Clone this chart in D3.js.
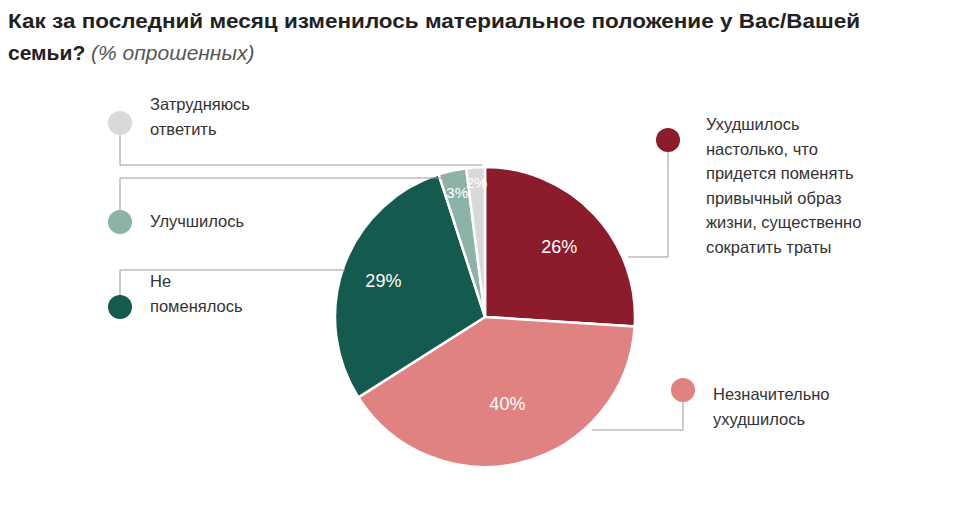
<!DOCTYPE html><html><head><meta charset="utf-8"><script src="https://cdn.jsdelivr.net/npm/d3@7"></script>
<style>body{margin:0;background:#fff;font-family:"Liberation Sans",Arial,sans-serif}</style></head><body><svg id="c" width="960" height="530"></svg>
<script>
const categories=["Ухудшилось настолько, что придется поменять привычный образ жизни, существенно сократить траты","Незначительно ухудшилось","Не поменялось","Улучшилось","Затрудняюсь ответить"];
const values=[26,40,29,3,2];
const labels=["26%","40%","29%","3%","2%"];
const colors=["#8c1c2c","#e08282","#145a4e","#8db3a8","#d9d9d9"];
const svg=d3.select("#c");
const t=svg.append("text").attr("x",8).attr("y",28).attr("font-size",21).attr("fill","#222").attr("textLength",852).attr("lengthAdjust","spacingAndGlyphs");
t.append("tspan").attr("font-weight","bold").text("Как за последний месяц изменилось материальное положение у Вас/Вашей");
const t2=svg.append("text").attr("x",8).attr("y",60).attr("font-size",21).attr("fill","#222");
t2.append("tspan").attr("font-weight","bold").text("семьи? ");
t2.append("tspan").attr("font-style","italic").attr("fill","#555").text("(% опрошенных)");
const cx=485,cy=317,r=150;
const pie=d3.pie().sort(null)(values);
const arc=d3.arc().innerRadius(0).outerRadius(r);
const g=svg.append("g").attr("transform",`translate(${cx},${cy})`);
g.selectAll("path").data(pie).join("path").attr("d",arc).attr("fill",(d,i)=>colors[i]).attr("stroke","#fff").attr("stroke-width",2.5);
const lr=[0.68,0.6,0.72,0.85,0.9];
g.selectAll("text").data(pie).join("text").attr("transform",(d,i)=>{const a=d3.arc().innerRadius(r*lr[i]).outerRadius(r*lr[i]);return `translate(${a.centroid(d)})`})
 .attr("text-anchor","middle").attr("dy","0.35em").attr("fill","#fff").attr("font-size",(d,i)=>i>2?15:18).text((d,i)=>labels[i]);
const line=(pts)=>svg.append("polyline").attr("points",pts.map(p=>p.join(",")).join(" ")).attr("fill","none").attr("stroke","#999").attr("stroke-width",1);
line([[120,135],[120,165],[482,165]]);
line([[120,222],[120,178],[445,178]]);
line([[120,300],[120,270],[345,270]]);
line([[668,152],[668,257],[628,257]]);
line([[683,402],[683,430],[592,430]]);
const leg=[{x:120,y:123,c:4,lines:["Затрудняюсь","ответить"]},{x:120,y:222,c:3,lines:["Улучшилось"]},{x:120,y:307,c:2,lines:["Не","поменялось"],dy:-12},
{x:668,y:140,c:0,lines:["Ухудшилось","настолько, что","придется поменять","привычный образ","жизни, существенно","сократить траты"],tx:706,ty:130},
{x:683,y:390,c:1,lines:["Незначительно","ухудшилось"],tx:713,ty:400}];
leg.forEach(l=>{svg.append("circle").attr("cx",l.x).attr("cy",l.y).attr("r",12).attr("fill",colors[l.c]);
 const tx=l.tx||150, ty=l.ty||(l.y+(l.lines.length>1?-8:5)+(l.dy||0)+ (l.c===4?-5:0));
 const te=svg.append("text").attr("x",tx).attr("y",ty).attr("font-size",16.5).attr("fill","#333");
 l.lines.forEach((s,i)=>te.append("tspan").attr("x",tx).attr("dy",i?24.5:0).text(s));});
</script></body></html>
